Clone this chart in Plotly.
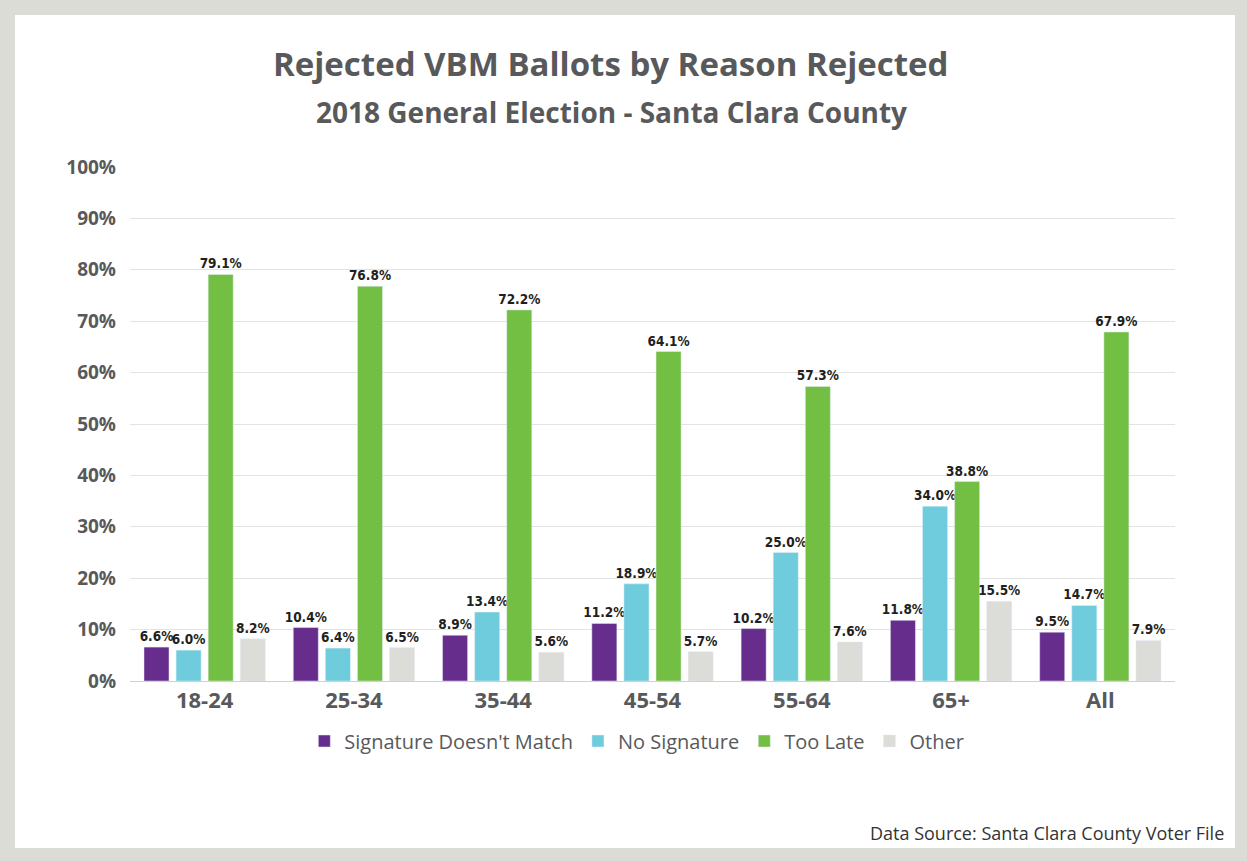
import plotly.graph_objects as go

age_groups = ["18-24", "25-34", "35-44", "45-54", "55-64", "65+", "All"]
sig_mismatch = [6.6, 10.4, 8.9, 11.2, 10.2, 11.8, 9.5]
no_signature = [6.0, 6.4, 13.4, 18.9, 25.0, 34.0, 14.7]
too_late = [79.1, 76.8, 72.2, 64.1, 57.3, 38.8, 67.9]
other = [8.2, 6.5, 5.6, 5.7, 7.6, 15.5, 7.9]

series = [
    ("Signature Doesn't Match", sig_mismatch, "#662D8C"),
    ("No Signature", no_signature, "#6ECCDD"),
    ("Too Late", too_late, "#72BF44"),
    ("Other", other, "#DCDCD8"),
]

W, H = 1247, 861
L, R, T, B = 130, 72, 167, 180
pw, ph = W - L - R, H - T - B

def px_x(x):
    return (x - L) / pw

def px_y(y):
    return (H - B - y) / ph

grey = "#58595B"

fig = go.Figure()
for name, vals, col in series:
    fig.add_trace(go.Bar(
        x=age_groups, y=vals, name=name, marker_color=col,
        texttemplate="%{y:.1f}%", textposition="outside", cliponaxis=False,
        constraintext="none",
        textfont=dict(family="DejaVu Sans Condensed, Roboto, sans-serif", size=13.5,
                      color="#231F20", weight="bold"),
    ))

fig.update_layout(
    width=W, height=H,
    margin=dict(l=L, r=R, t=T, b=B),
    paper_bgcolor="#DCDCD7", plot_bgcolor="white",
    barmode="group", bargap=0.14, bargroupgap=0.22,
    font=dict(family="Open Sans", color=grey),
    showlegend=True,
    legend=dict(orientation="h", x=0.485, xanchor="center", y=px_y(741), yanchor="middle",
                font=dict(size=20, color=grey), itemwidth=30, traceorder="normal",
                bgcolor="rgba(0,0,0,0)"),
    yaxis=dict(range=[0, 100], dtick=10, ticksuffix="%", showgrid=True, gridcolor="#E3E3E3",
               tickfont=dict(size=19, color=grey, family="Open Sans", weight="bold"),
               zeroline=False, ticks="", ticklabelstandoff=13),
    xaxis=dict(tickfont=dict(size=22, color=grey, family="Open Sans", weight="bold"),
               showline=True, linecolor="#D0D0D0", linewidth=1, ticks=""),
    shapes=[dict(type="rect", xref="paper", yref="paper", layer="below",
                 x0=px_x(15), x1=px_x(1235), y0=px_y(848), y1=px_y(15),
                 fillcolor="white", line_width=0)],
    annotations=[
        dict(text="<b>Rejected VBM Ballots by Reason Rejected</b>", xref="paper", yref="paper",
             x=px_x(610), y=px_y(63), xanchor="center", yanchor="middle", showarrow=False,
             font=dict(size=33, color=grey)),
        dict(text="<b>2018 General Election - Santa Clara County</b>", xref="paper", yref="paper",
             x=px_x(611), y=px_y(112), xanchor="center", yanchor="middle", showarrow=False,
             font=dict(size=28, color=grey)),
        dict(text="Data Source: Santa Clara County Voter File", xref="paper", yref="paper",
             x=px_x(1226), y=px_y(833), xanchor="right", yanchor="middle", showarrow=False,
             font=dict(size=18, color="#333333")),
    ],
)

fig.write_html("out.html", config={"displayModeBar": False},
               post_script="document.body.style.margin='0';")
